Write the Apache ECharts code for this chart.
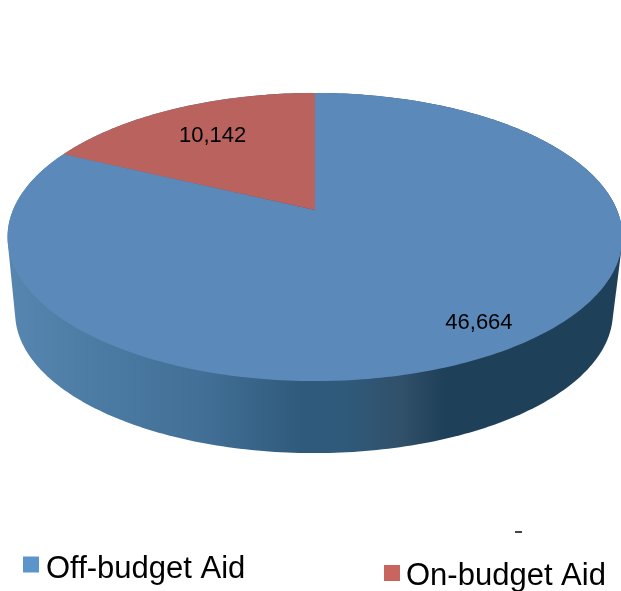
<!DOCTYPE html>
<html>
<head>
<meta charset="utf-8">
<style>html,body{margin:0;padding:0;background:#fff}#chart{width:621px;height:591px}</style>
<script src="https://cdn.jsdelivr.net/npm/echarts@6/dist/echarts.min.js"></script>
</head>
<body>
<div id="chart"></div>
<script>
// Aid split, in the same order the slices run clockwise from twelve o'clock
const categories = ['Off-budget Aid', 'On-budget Aid'];
const aidValues = [46664, 10142];
const sliceColors = ['#5b8aba', '#b9625e'];
const legendColors = ['#5b95cc', '#c8655f'];

// Perspective disc: circle coordinates (u, v) projected around the hub
const hub = { x: 315, y: 210 };
const spreadX = 302, spreadY = 139, tilt = 0.1875;
// Underside of the disc, slightly smaller and lower than the top face
const baseScale = 0.972, baseDrop = 72, baseShift = -1;

const total = aidValues.reduce((a, b) => a + b, 0);

function project(turn, radius, scale, drop, shift) {
  const u = radius * Math.sin(turn), v = radius * Math.cos(turn);
  const w = 1 + tilt * v;
  const bottomY = hub.y + spreadY / (1 - tilt);
  const px = hub.x + shift + scale * spreadX * u / w;
  const py = hub.y - spreadY * v / w;
  return [px, bottomY + drop + scale * (py - bottomY)];
}

function arc(from, to, scale, drop, shift) {
  const steps = Math.max(8, Math.ceil((to - from) * 60));
  const pts = [];
  for (let i = 0; i <= steps; i++) {
    pts.push(project(from + (to - from) * i / steps, 1, scale, drop, shift));
  }
  return pts;
}

// Outline of the side wall: convex hull of the top face and the underside
function hull(points) {
  const p = points.slice().sort((a, b) => a[0] - b[0] || a[1] - b[1]);
  const cross = (o, a, b) => (a[0] - o[0]) * (b[1] - o[1]) - (a[1] - o[1]) * (b[0] - o[0]);
  const build = list => {
    const out = [];
    for (const q of list) {
      while (out.length >= 2 && cross(out[out.length - 2], out[out.length - 1], q) <= 0) out.pop();
      out.push(q);
    }
    out.pop();
    return out;
  };
  return build(p).concat(build(p.reverse()));
}

function sliceRange(index) {
  const before = aidValues.slice(0, index).reduce((a, b) => a + b, 0);
  const from = before / total * Math.PI * 2;
  return [from, from + aidValues[index] / total * Math.PI * 2];
}

const wallStops = [
  [0, '#5786b0'], [0.15, '#4b7ba3'], [0.32, '#426f96'], [0.48, '#2f5a7c'],
  [0.55, '#2f5a7a'], [0.64, '#31506a'], [0.71, '#1f4059'], [1, '#1f4059']
];
const labelPlacement = [{ radius: 0.844, shift: -0.032 }, { radius: 0.709, shift: 0 }];

function renderSlice(index) {
  const [from, to] = sliceRange(index);
  const children = [];
  if (index === 0) {
    const outline = hull(arc(0, Math.PI * 2, 1, 0, 0)
      .concat(arc(0, Math.PI * 2, baseScale, baseDrop, baseShift)));
    children.push({
      type: 'polygon',
      shape: { points: outline },
      style: {
        fill: new echarts.graphic.LinearGradient(0, 0, 1, 0,
          wallStops.map(s => ({ offset: s[0], color: s[1] })))
      }
    });
  }
  children.push({
    type: 'polygon',
    shape: { points: [[hub.x, hub.y]].concat(arc(from, to, 1, 0, 0)) },
    style: { fill: sliceColors[index] }
  });
  const place = labelPlacement[index];
  const mid = (from + to) / 2 + place.shift;
  const at = project(mid, place.radius, 1, 0, 0);
  children.push({
    type: 'text',
    style: {
      x: at[0], y: at[1] + 1,
      text: aidValues[index].toLocaleString('en-US'),
      fill: '#000',
      font: '22px "Liberation Sans", Arial, sans-serif',
      align: 'center',
      verticalAlign: 'middle'
    }
  });
  return { type: 'group', children };
}

const legendBase = {
  orient: 'horizontal',
  icon: 'rect',
  itemWidth: 16,
  itemHeight: 16,
  padding: 0,
  selectedMode: false,
  formatter: '{entry|{name}}'
};
// Rich-text token so the label can sit a little below its colour swatch
const legendText = padding => ({
  rich: {
    entry: {
      fontFamily: '"Liberation Sans", Arial, sans-serif',
      fontSize: 31,
      color: '#000',
      verticalAlign: 'top',
      padding
    }
  }
});

const chart = echarts.init(document.getElementById('chart'), null, { renderer: 'canvas' });
chart.setOption({
  animation: false,
  backgroundColor: '#fff',
  legend: [
    Object.assign({}, legendBase, {
      left: 23, top: 554,
      textStyle: legendText([10, 0, 0, 2]),
      data: [{ name: categories[0], itemStyle: { color: legendColors[0] } }]
    }),
    Object.assign({}, legendBase, {
      left: 384, top: 561,
      textStyle: legendText([7, 0, 0, 1]),
      data: [{ name: categories[1], itemStyle: { color: legendColors[1] } }]
    })
  ],
  // Small stray tick above the second legend entry
  graphic: [{
    type: 'rect',
    shape: { x: 515, y: 531, width: 7, height: 2 },
    style: { fill: '#444' },
    silent: true
  }],
  series: categories.map((name, index) => ({
    type: 'custom',
    name,
    coordinateSystem: 'none',
    silent: true,
    itemStyle: { color: sliceColors[index] },
    data: [aidValues[index]],
    renderItem: () => renderSlice(index)
  }))
});
</script>
</body>
</html>
